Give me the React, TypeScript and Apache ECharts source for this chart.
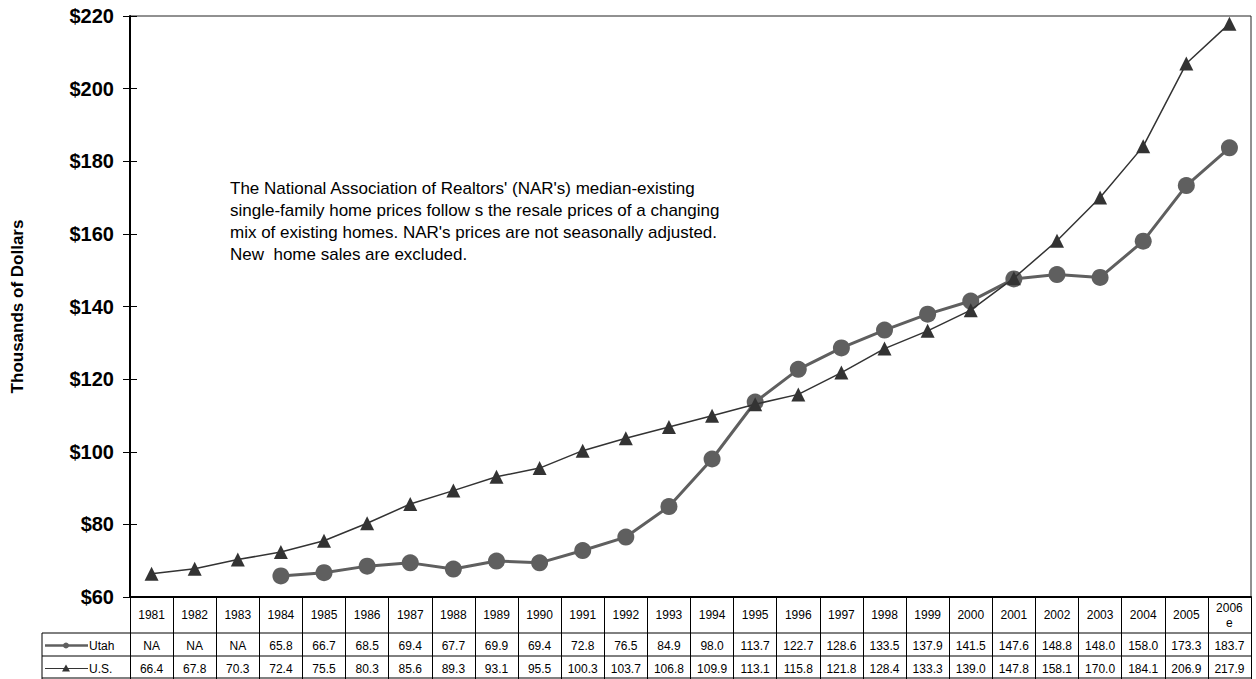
import React, { useEffect, useRef } from "react";
import * as echarts from "echarts";

const years = ["1981","1982","1983","1984","1985","1986","1987","1988","1989","1990","1991","1992","1993","1994","1995","1996","1997","1998","1999","2000","2001","2002","2003","2004","2005","2006\ne"];
const utah: (number | null)[] = [null,null,null,65.8,66.7,68.5,69.4,67.7,69.9,69.4,72.8,76.5,84.9,98.0,113.7,122.7,128.6,133.5,137.9,141.5,147.6,148.8,148.0,158.0,173.3,183.7];
const us: number[] = [66.4,67.8,70.3,72.4,75.5,80.3,85.6,89.3,93.1,95.5,100.3,103.7,106.8,109.9,113.1,115.8,121.8,128.4,133.3,139.0,147.8,158.1,170.0,184.1,206.9,217.9];
const yTicks = [60, 80, 100, 120, 140, 160, 180, 200, 220];

const note = [
  "The National Association of Realtors' (NAR's) median-existing",
  "single-family home prices follow s the resale prices of a changing",
  "mix of existing homes. NAR's prices are not seasonally adjusted.",
  "New  home sales are excluded.",
].join("\n");

const UTAH_COLOR = "#5f5f5f";
const US_COLOR = "#333333";
const FONT = "Liberation Sans, Arial, sans-serif";

// layout of plot and the data table beneath it
const W = 1256, H = 679;
const GL = 130, GR = 1251, GT = 16, GB = 597;
const ROW1 = 633, ROW2 = 656, ROW3 = 679;
const LEG_L = 42;
const TABLE_FS = 12;

export default function App() {
  const ref = useRef<HTMLDivElement>(null);
  useEffect(() => {
    if (!ref.current) return;
    const chart = echarts.init(ref.current, undefined, { renderer: "svg" });
    const colW = (GR - GL) / years.length;
    const fmt = (v: number | null) => (v == null ? "NA" : v.toFixed(1));

    const graphics: any[] = [];
    // table horizontal rules
    [ROW1, ROW2, ROW3 - 1].forEach((y) =>
      graphics.push({ type: "line", shape: { x1: LEG_L, y1: y, x2: GR, y2: y }, style: { stroke: "#000", lineWidth: 1 } })
    );
    graphics.push({ type: "line", shape: { x1: LEG_L, y1: ROW1, x2: LEG_L, y2: ROW3 }, style: { stroke: "#000", lineWidth: 1 } });
    // table values
    years.forEach((_, i) => {
      const cx = GL + colW * (i + 0.5);
      graphics.push({ type: "text", x: cx, y: (ROW1 + ROW2) / 2 + 1, style: { text: fmt(utah[i]), fontSize: TABLE_FS, fontFamily: FONT, fill: "#000", align: "center", verticalAlign: "middle" } });
      graphics.push({ type: "text", x: cx, y: (ROW2 + ROW3) / 2 + 1, style: { text: fmt(us[i]), fontSize: TABLE_FS, fontFamily: FONT, fill: "#000", align: "center", verticalAlign: "middle" } });
    });
    // legend keys in the table
    const ky1 = (ROW1 + ROW2) / 2 + 1, ky2 = (ROW2 + ROW3) / 2 + 1;
    graphics.push({ type: "line", shape: { x1: 45, y1: ky1, x2: 88, y2: ky1 }, style: { stroke: UTAH_COLOR, lineWidth: 2.5 } });
    graphics.push({ type: "circle", shape: { cx: 66, cy: ky1, r: 3 }, style: { fill: UTAH_COLOR } });
    graphics.push({ type: "text", x: 89, y: ky1, style: { text: "Utah", fontSize: TABLE_FS, fontFamily: FONT, fill: "#000", verticalAlign: "middle" } });
    graphics.push({ type: "line", shape: { x1: 45, y1: ky2, x2: 88, y2: ky2 }, style: { stroke: US_COLOR, lineWidth: 1 } });
    graphics.push({ type: "polygon", shape: { points: [[66, ky2 - 4], [62, ky2 + 3], [70, ky2 + 3]] }, style: { fill: US_COLOR } });
    graphics.push({ type: "text", x: 89, y: ky2, style: { text: "U.S.", fontSize: TABLE_FS, fontFamily: FONT, fill: "#000", verticalAlign: "middle" } });
    // note
    graphics.push({ type: "text", x: 230, y: 177, style: { text: note, fontSize: 17, lineHeight: 22, fontFamily: FONT, fill: "#000" } });

    chart.setOption({
      animation: false,
      backgroundColor: "#fff",
      grid: { left: GL, right: W - GR, top: GT, bottom: H - GB, show: true, borderColor: "#222", borderWidth: 1, backgroundColor: "transparent" },
      xAxis: {
        type: "category",
        data: years,
        boundaryGap: true,
        axisLine: { lineStyle: { color: "#000", width: 2 } },
        axisTick: { show: true, interval: 0, length: H - GB, lineStyle: { color: "#000", width: 1 } },
        axisLabel: { interval: 0, margin: 18, verticalAlign: "middle", fontSize: TABLE_FS, lineHeight: 15, fontFamily: FONT, color: "#000" },
        splitLine: { show: false },
      },
      yAxis: [
        {
          type: "value",
          min: 60,
          max: 220,
          interval: 20,
          name: "Thousands of Dollars",
          nameLocation: "middle",
          nameGap: 104,
          nameTextStyle: { fontSize: 17, fontWeight: "bold", fontFamily: FONT, color: "#000" },
          axisLine: { show: true, lineStyle: { color: "#000", width: 2 } },
          axisTick: { show: true, length: 7, lineStyle: { color: "#000", width: 1 } },
          axisLabel: { margin: 16, fontSize: 20, fontWeight: "bold", fontFamily: FONT, color: "#000", formatter: (v: number) => (yTicks.includes(v) ? "$" + v : "") },
          splitLine: { show: false },
        },
        {
          // inner half of the cross ticks
          type: "value",
          position: "left",
          min: 60,
          max: 220,
          interval: 20,
          axisLine: { show: false },
          axisTick: { show: true, inside: true, length: 7, lineStyle: { color: "#000", width: 1 } },
          axisLabel: { show: false },
          splitLine: { show: false },
        },
      ],
      series: [
        {
          name: "U.S.",
          type: "line",
          data: us,
          symbol: "triangle",
          symbolSize: 14,
          lineStyle: { color: US_COLOR, width: 1.5 },
          itemStyle: { color: US_COLOR },
          z: 2,
        },
        {
          name: "Utah",
          type: "line",
          data: utah,
          symbol: "circle",
          symbolSize: 17,
          lineStyle: { color: UTAH_COLOR, width: 3 },
          itemStyle: { color: UTAH_COLOR },
          z: 1,
        },
      ],
      graphic: graphics,
    });
    return () => chart.dispose();
  }, []);
  return <div ref={ref} style={{ width: W, height: H, position: "absolute", left: 0, top: 0 }} />;
}
